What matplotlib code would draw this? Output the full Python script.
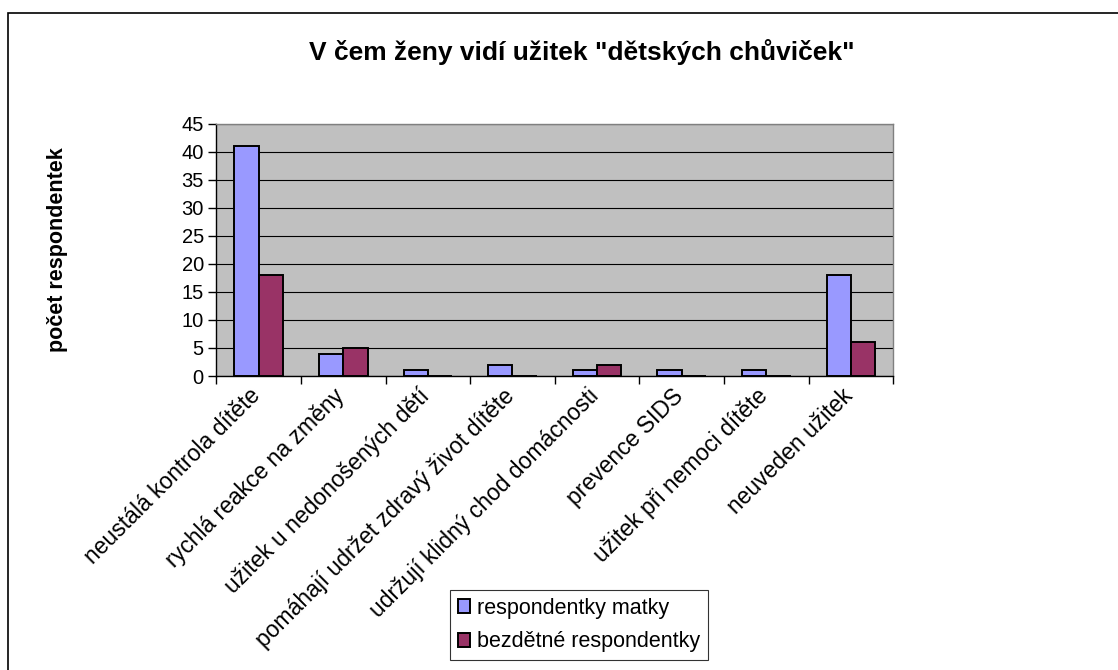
import numpy as np
import matplotlib
matplotlib.use('Agg')
import matplotlib.pyplot as plt
import matplotlib.transforms as mtransforms
from matplotlib.patches import Rectangle

# Data
kategorie = [
    'neustálá kontrola dítěte',
    'rychlá reakce na změny',
    'užitek u nedonošených dětí',
    'pomáhají udržet zdravý život dítěte',
    'udržují klidný chod domácnosti',
    'prevence SIDS',
    'užitek při nemoci dítěte',
    'neuveden užitek',
]
matky = [41, 4, 1, 2, 1, 1, 1, 18]
bezdetne = [18, 5, 0, 0, 2, 0, 0, 6]
serie = ['respondentky matky', 'bezdětné respondentky']

plt.rcParams['font.family'] = ['Liberation Sans', 'DejaVu Sans']

fig = plt.figure(figsize=(11.18, 6.70), dpi=100)
ax = fig.add_axes([0.1935, 0.4388, 0.6055, 0.3764])

x = np.arange(len(kategorie))
w = 0.288
ax.bar(x - w / 2, matky, w, color='#9999FF', edgecolor='black',
       linewidth=1.4, label=serie[0], zorder=3)
ax.bar(x + w / 2, bezdetne, w, color='#993366', edgecolor='black',
       linewidth=1.4, label=serie[1], zorder=3)

ax.set_facecolor('#C0C0C0')
ax.set_xlim(-0.5, len(kategorie) - 0.5)
ax.set_ylim(0, 45)
ax.set_yticks(np.arange(0, 46, 5))
ax.yaxis.grid(True, color='black', linewidth=0.8, zorder=1)
ax.set_axisbelow(True)

# ticks between categories, labels under the groups
ax.set_xticks(np.arange(-0.5, len(kategorie), 1.0))
ax.set_xticklabels([])
ax.set_xticks(x, minor=True)
ax.set_xticklabels(kategorie, minor=True, rotation=45, ha='right',
                   rotation_mode='anchor', fontsize=16.5)
ax.tick_params(axis='x', which='minor', length=0, pad=6)
ax.tick_params(axis='x', which='major', length=6, width=1, direction='out')
ax.tick_params(axis='y', length=6, width=1, direction='out', labelsize=14.5, pad=3)

posun = mtransforms.ScaledTranslation(-10 / 100, 0, fig.dpi_scale_trans)
for lab in ax.get_xticklabels(minor=True):
    lab.set_transform(lab.get_transform() + posun)

for side in ['top', 'right']:
    ax.spines[side].set_color('#808080')
for side in ['left', 'bottom']:
    ax.spines[side].set_color('black')
for s in ax.spines.values():
    s.set_linewidth(1.0)

ax.set_ylabel('počet respondentek', fontsize=15.5, fontweight='bold')
ax.yaxis.set_label_coords(-0.219, 0.5)

fig.text(0.52, 0.922, 'V čem ženy vidí užitek "dětských chůviček"',
         ha='center', va='center', fontsize=19, fontweight='bold')

leg = fig.legend(loc='upper left', bbox_to_anchor=(450 / 1118, 1 - 590 / 670),
                 fontsize=15.5, frameon=True, fancybox=False, handlelength=0.6,
                 handleheight=0.6, handletextpad=0.3, borderpad=0.35,
                 labelspacing=0.6, borderaxespad=0)
leg.get_frame().set_edgecolor('black')
leg.get_frame().set_linewidth(0.8)

# outer chart border
fig.patches.append(Rectangle((8 / 1118, -0.05), 1.1, 1 - 13 / 670 + 0.05,
                             transform=fig.transFigure, fill=False,
                             edgecolor='black', linewidth=1.2))

fig.savefig('out.png', dpi=100)
